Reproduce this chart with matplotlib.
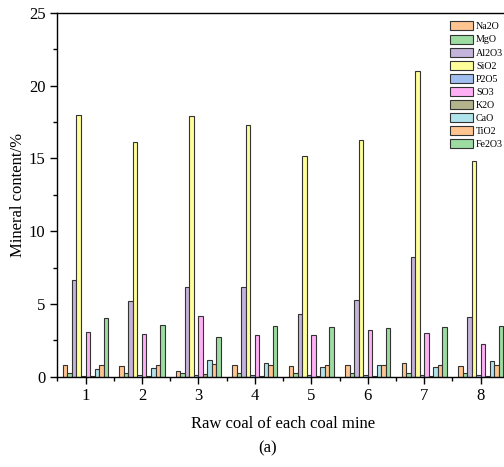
import matplotlib
matplotlib.use('Agg')
import matplotlib.pyplot as plt
import numpy as np

plt.rcParams['font.family'] = ['Liberation Serif', 'DejaVu Serif']

# data
mines = [1, 2, 3, 4, 5, 6, 7, 8]
oxides = ['Na2O', 'MgO', 'Al2O3', 'SiO2', 'P2O5', 'SO3', 'K2O', 'CaO', 'TiO2', 'Fe2O3']
na2o = [0.78, 0.75, 0.39, 0.78, 0.75, 0.78, 0.94, 0.75]
mgo = [0.27, 0.27, 0.27, 0.27, 0.27, 0.27, 0.27, 0.27]
al2o3 = [6.64, 5.22, 6.14, 6.14, 4.28, 5.27, 8.2, 4.12]
sio2 = [18.02, 16.14, 17.9, 17.29, 15.2, 16.24, 21.0, 14.8]
p2o5 = [0.08, 0.1, 0.13, 0.15, 0.15, 0.12, 0.12, 0.12]
so3 = [3.05, 2.91, 4.19, 2.89, 2.84, 3.21, 3.02, 2.22]
k2o = [0.04, 0.04, 0.2, 0.04, 0.04, 0.04, 0.04, 0.04]
cao = [0.51, 0.57, 1.12, 0.92, 0.64, 0.83, 0.66, 1.08]
tio2 = [0.8, 0.8, 0.85, 0.78, 0.78, 0.78, 0.78, 0.78]
fe2o3 = [4.01, 3.55, 2.75, 3.5, 3.43, 3.32, 3.39, 3.48]
series = [na2o, mgo, al2o3, sio2, p2o5, so3, k2o, cao, tio2, fe2o3]

colors = ['#FFC490', '#9CDCA0', '#C4B4DC', '#FFFF99', '#A0BEF0',
          '#FFB0F5', '#B4B48C', '#B0E4EC', '#FFC490', '#9CDCA0']

fig = plt.figure(figsize=(5.04, 4.67), dpi=100)
ax = fig.add_axes([0.1137, 0.1934, 0.896, 0.7788])

x = np.array(mines)
w = 0.08
for i, vals in enumerate(series):
    ax.bar(x + (i - 4.5) * w, vals, width=w, color=colors[i],
           edgecolor='#333333', linewidth=0.8, label=oxides[i])

ax.set_xlim(0.5, 8.5)
ax.set_ylim(0, 25)
ax.set_xticks(mines)
ax.set_xticks(np.arange(0.5, 9, 1), minor=True)
ax.set_yticks([0, 5, 10, 15, 20, 25])
ax.set_yticks(np.arange(2.5, 25, 5), minor=True)
ax.tick_params(which='major', direction='out', length=5, width=1, labelsize=12)
ax.tick_params(which='minor', direction='out', length=3, width=1)
for s in ax.spines.values():
    s.set_linewidth(1)

ax.set_xlabel('Raw coal of each coal mine', fontsize=12, labelpad=8)
ax.set_ylabel('Mineral content/%', fontsize=12, labelpad=2)
fig.text(268 / 504, 1 - 448 / 467, '(a)', fontsize=12, ha='center', va='center')

fig.legend(loc='upper left', bbox_to_anchor=(450 / 504, 1 - 21.5 / 467),
           frameon=False, fontsize=7.2, borderpad=0, borderaxespad=0,
           handlelength=2.3, handleheight=1.0, handletextpad=0.3,
           labelspacing=0.32)

fig.savefig('out.png', dpi=100)
